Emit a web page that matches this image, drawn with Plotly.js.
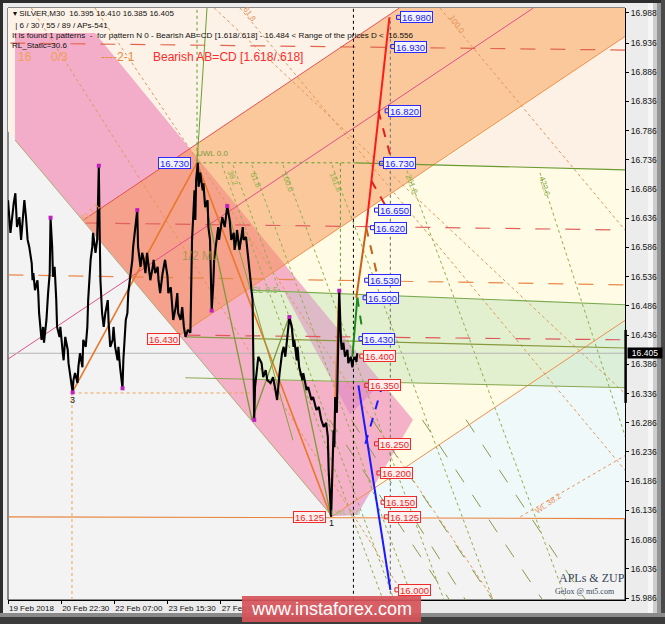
<!DOCTYPE html>
<html>
<head>
<meta charset="utf-8">
<script src="https://cdn.plot.ly/plotly-3.0.1.min.js"></script>
<style>
html,body{margin:0;padding:0;background:#2e2e2e;}
#chart{width:665px;height:624px;}
</style>
</head>
<body>
<div id="chart"></div>
<script>
// ---- SILVER M30: price path (bar index, price) ----
const pricePath = [
[0,16.667],[3,16.611],[7,16.662],[9,16.679],[11,16.621],[14,16.638],[16,16.599],[19,16.662],[20,16.667],[22,16.638],[24,16.599],[26,16.587],[29,16.559],[30,16.530],[31,16.542],[33,16.513],[36,16.530],[37,16.508],[38,16.474],[41,16.428],[43,16.450],[44,16.423],[47,16.462],[49,16.508],[51,16.542],[52,16.637],[54,16.587],[55,16.536],[57,16.553],[59,16.496],[60,16.450],[63,16.433],[64,16.450],[67,16.405],[68,16.393],[70,16.433],[73,16.411],[74,16.388],[76,16.364],[79,16.338],[80,16.359],[82,16.371],[85,16.354],[86,16.381],[88,16.405],[91,16.381],[92,16.428],[95,16.416],[97,16.450],[98,16.496],[101,16.565],[103,16.587],[104,16.611],[107,16.577],[109,16.599],[111,16.726],[112,16.621],[113,16.530],[115,16.474],[117,16.450],[119,16.474],[122,16.496],[123,16.457],[125,16.416],[128,16.428],[129,16.450],[131,16.416],[134,16.393],[135,16.416],[137,16.381],[140,16.345],[141,16.393],[144,16.462],[146,16.474],[147,16.508],[150,16.542],[152,16.565],[153,16.587],[156,16.621],[158,16.650],[159,16.587],[162,16.553],[164,16.577],[166,16.565],[168,16.542],[170,16.577],[172,16.553],[174,16.530],[177,16.553],[178,16.565],[180,16.542],[183,16.553],[184,16.530],[186,16.508],[189,16.542],[190,16.553],[192,16.565],[195,16.536],[196,16.508],[199,16.518],[201,16.484],[202,16.462],[205,16.484],[207,16.508],[208,16.474],[211,16.462],[213,16.484],[215,16.450],[217,16.433],
[220,16.445],[223,16.440],[224,16.530],[225,16.599],[227,16.655],[228,16.684],[229,16.633],[230,16.702],[232,16.731],[233,16.690],[235,16.714],[238,16.684],[239,16.696],[241,16.655],[244,16.667],[245,16.621],[247,16.599],[249,16.478],[251,16.525],[252,16.565],[255,16.599],[257,16.621],[258,16.599],[262,16.638],[265,16.621],[267,16.650],[268,16.657],[271,16.633],[273,16.599],[276,16.611],[277,16.582],[279,16.599],[280,16.616],[283,16.582],[287,16.621],[288,16.599],[291,16.604],[293,16.577],[295,16.547],[298,16.513],
[299,16.496],[300,16.388],[301,16.291],[302,16.347],[305,16.381],[306,16.399],[310,16.388],[312,16.364],[315,16.376],[317,16.359],[321,16.354],[324,16.364],[327,16.342],[329,16.325],[332,16.371],[335,16.405],[337,16.416],[339,16.399],[342,16.440],[344,16.467],[347,16.450],[349,16.416],[350,16.428],[353,16.393],[354,16.416],[356,16.381],[360,16.359],[361,16.371],[365,16.342],[367,16.347],[371,16.325],[373,16.330],[377,16.308],[380,16.313],[383,16.291],[386,16.279],[389,16.286],[391,16.262],[392,16.205],[393,16.176],[394,16.137],[395,16.125],[396,16.176],[397,16.217],[398,16.273],[399,16.244],[400,16.330],[402,16.303],[403,16.388],[404,16.460],[405,16.512],[407,16.428],[408,16.411],[410,16.423],[412,16.399],[415,16.411],[416,16.388],[419,16.399],[421,16.381],[422,16.393],[425,16.399],[426,16.390],[427,16.405]
];
const lastPrice = 16.405;

// ZUP zigzag pivots and legs
const pivots = [[52,16.637],[79,16.338],[111,16.726],[140,16.345],[158,16.650],[249,16.478],[268,16.657],[301,16.291],[344,16.467],[405,16.512]];
const zigzagMain = [[78.2,16.337],[231.1,16.731],[394.9,16.125],[404.6,16.512]];
const zigzagMinor = [[231.1,16.731],[298.3,16.291],[343.5,16.467],[394.9,16.125]];
const zigzagInner = [[267.7,16.655],[348.4,16.256]];
const peakRay = [[231.1,16.731],[243.3,16.996]];

// AB=CD projection legs
const greenUp = [[421,16.399],[427.1,16.500]];
const greenBack = [[427.1,16.500],[439.3,16.388]];
const brownUp = [[425.8,16.500],[438,16.620]];
const brownBack = [[438,16.620],[452.8,16.530]];
const redUp = [[438,16.620],[466.3,16.980]];
const redBack1 = [[452.8,16.820],[469.9,16.730]];
const redBack2 = [[444.3,16.700],[462.6,16.655]];
const blueDown = [[428.4,16.350],[467.5,16.000]];
const blueBack = [[436.9,16.250],[457.7,16.350]];

// target price labels
const blueLevels = [16.980,16.930,16.820,16.730,16.650,16.620,16.530,16.500,16.430];
const blueLabelBars = [479,472,465,458,452,447,440,438,433];
const redLevels = [16.400,16.350,16.250,16.200,16.150,16.125,16.000];
const redLabelBars = [434,440,452,455,460,464,477];
const pivotLabels = [[183.9,16.730,'blue'],[170.4,16.430,'red'],[348.9,16.125,'red']];

// Andrews pitchfork zones (bar, price)
const lightPeachZone = [[0,16.997],[770,16.997],[770,16.962],[209.8,16.436],[92.2,16.633],[0,16.785]];
const creamZone = [[209.8,16.436],[770,16.962],[770,16.476],[396.6,16.126]];
const upperCreamZone = [[523,16.7265],[770,16.962],[770,16.719]];
const cyanZone = [[396.6,16.126],[770,16.476],[770,16.122]];
const pinkChannel = [[8.6,16.953],[106.4,16.953],[366.5,16.509],[298.3,16.513],[298.3,16.360],[457.2,16.355],[495.1,16.291],[426.7,16.128],[396.1,16.126],[8.6,16.770]];
const greenZone = [[298.3,16.513],[770,16.487],[770,16.345],[298.3,16.360]];
const pinkStrip = [[366.5,16.509],[457.2,16.355],[418.1,16.300],[338.0,16.509]];
const peachChannel = [[92.2,16.633],[480,16.997],[770,16.997],[770,16.962],[209.8,16.436]];

// pitchfork lines
const upperTine = [[92.2,16.633],[478.5,16.996]];
const medianLine = [[0,16.395],[642.3,16.996]];
const lowerTine = [[209.8,16.436],[770,16.962]];
const lowerWarning = [[396.6,16.126],[770,16.476]];
const wl382 = [[626.3,16.125],[755.9,16.231]];
const slopeEdge = [[8.6,16.770],[396.1,16.126]];

// horizontal levels
const lvl16930 = [[2.9,16.936],[754.8,16.924]];
const lvl16620 = [[94.6,16.628],[754.8,16.616]];
const lvl16530 = [[0.5,16.539],[754.8,16.522]];
const lvl16430 = [[216.9,16.436],[754.8,16.428]];
const lvl16337 = [[79,16.337],[298.8,16.337]];
const lvl16125 = [[0,16.125],[754.8,16.122]];
const uwlDotted = [[231.5,16.731],[424.7,16.731]];
const uwlLine = [[424.7,16.731],[754.8,16.719]];
const slLine = [[296.3,16.513],[754.8,16.488]];
const g3Line = [[216.9,16.433],[754.8,16.414]];
const g4Line = [[216.9,16.363],[754.8,16.346]];

// fan / parallel lines
const fanStarts = [[261.6,16.727],[275.1,16.727],[298.3,16.727],[336.2,16.727],[396.1,16.727],[485.3,16.727],[650.4,16.714]];
const fanEnds = [[458.4,15.983],[471.9,15.983],[495.1,15.983],[533.0,15.983],[592.9,15.983],[682.2,15.983],[819.1,15.983]];
const parStarts = [[28.6,16.996],[106.2,16.996],[252.1,16.996],[283.6,16.996],[528.1,16.996]];
const parEnds = [[487.8,15.983],[593.9,15.983],[1022.9,15.983],[886.3,15.983],[1130.8,15.983]];
const dashStarts = [[393.0,16.291],[419.9,16.291],[445.5,16.291],[506.6,16.291],[560.0,16.291]];
const dashEnds = [[539.6,15.983],[559.2,15.983],[592.2,15.983],[653.3,15.983],[706.0,15.983]];

// time and price axes
const xTickBars = [0,65,130,195,260];
const xTickText = ['19 Feb 2018','20 Feb 22:30','22 Feb 07:00','23 Feb 15:30','27 Feb 01:00'];
const yTickVals = [15.986,16.036,16.086,16.136,16.186,16.236,16.286,16.336,16.386,16.436,16.486,16.536,16.586,16.636,16.686,16.736,16.786,16.836,16.886,16.936,16.988];

// ---- helpers ----
const X0 = 0, X1 = 754.3, Y0 = 15.9826, Y1 = 16.996;
const L = 8, T = 8, W = 617, H = 592;
const xp = px => (px - L) / W;          // pixel -> paper x
const yp = py => (T + H - py) / H;      // pixel -> paper y
const dx = px => X0 + (px - L) / W * (X1 - X0);
const dy = py => Y1 - (py - T) / H * (Y1 - Y0);

const shapes = [];
function paperRect(a, b, c, d, fill, line) {
  shapes.push({type:'rect', xref:'paper', yref:'paper', x0:xp(a), y0:yp(b), x1:xp(c), y1:yp(d),
    fillcolor:fill, line:line || {width:0}, layer:'below'});
}
function region(pts, fill) {
  const d = 'M' + pts.map(p => p[0] + ',' + p[1]).join('L') + 'Z';
  shapes.push({type:'path', xref:'x', yref:'y', path:d, fillcolor:fill, line:{width:0}, layer:'below'});
}
function seg(pts, color, width, dash, layer) {
  shapes.push({type:'line', xref:'x', yref:'y', x0:pts[0][0], y0:pts[0][1], x1:pts[1][0], y1:pts[1][1],
    line:{color:color, width:width, dash:dash || 'solid'}, layer:layer || 'below'});
}
function vline(x, y0, y1, color, width, dash) {
  seg([[x,y0],[x,y1]], color, width, dash);
}

// window frame
paperRect(3, 3, 651, 613, '#ececec');
paperRect(648, 3, 653, 613, '#f6f6f6');
paperRect(653, 3, 657, 613, '#cdcdcd');
paperRect(657, 3, 661, 613, '#969696');
paperRect(661, 0, 665, 624, '#4a4a4a');
paperRect(0, 613, 665, 617, '#8a8a8a');
paperRect(0, 617, 665, 624, '#3c3c3c');
paperRect(L, T, L + W, T + H, '#f3f3f3', {color:'#202020', width:1});

// zones
region(lightPeachZone, '#fdf2e7');
region(creamZone, '#fffbe4');
region(upperCreamZone, '#fdf1e6');
region(cyanZone, '#f0f9f9');
region(greenZone, 'rgba(200,230,185,0.5)');
region(pinkChannel, 'rgba(236,110,175,0.52)');
region(pinkStrip, 'rgba(215,120,190,0.45)');
region(peachChannel, 'rgba(246,145,60,0.44)');

// fan and parallel lines
fanStarts.forEach((s, i) => seg([s, fanEnds[i]], '#8fae4a', 1, 'dot'));
parStarts.forEach((s, i) => seg([s, parEnds[i]], '#e2955a', 1, 'dot'));
dashStarts.forEach((s, i) => seg([s, dashEnds[i]], '#8a9a50', 1, 'longdash'));
seg(wl382, '#e8905a', 1, 'dot');

// pitchfork lines
seg(upperTine, '#e4504e', 1);
seg(medianLine, '#e2508a', 1);
seg(lowerTine, '#f0904c', 1);
seg(lowerWarning, '#f0904c', 1);
seg(slopeEdge, '#a0a060', 0.8);

// levels
seg(lvl16930, '#e2664e', 1.2, 'longdash');
seg(lvl16620, '#e0605e', 1.2, 'longdash');
seg(lvl16530, '#e88a4a', 1.2, 'longdash');
seg(lvl16430, '#e0585e', 1.2, 'longdash');
seg(lvl16337, '#f0a050', 1, 'dot');
seg(lvl16125, '#e8843c', 1.2);
seg(uwlDotted, '#5aa030', 1, 'dot');
seg(uwlLine, '#6a9a30', 1.2);
seg(slLine, '#7aaa50', 1.2);
seg(g3Line, '#8a9a40', 1.2);
seg(g4Line, '#8aa850', 1);
seg([[0,lastPrice],[754.3,lastPrice]], '#b4b4b4', 1);

// verticals
vline(78.2, 16.337, 15.983, '#f0a050', 1, 'dot');
vline(231.1, 16.731, 16.996, '#5aa030', 1, 'dot');
vline(406.4, 16.731, 16.512, '#5aa030', 1, 'dot');
vline(422.3, 15.983, 16.996, '#000000', 1, 'dot');
vline(467.5, 15.983, 16.980, '#808080', 1.2, 'dot');

// current bar marker at right edge
shapes.push({type:'line', xref:'paper', yref:'y', x0:1.001, x1:1.001, y0:16.445, y1:16.320,
  line:{color:'#000', width:2.5}, layer:'above'});

// watermark banner
shapes.push({type:'rect', xref:'paper', yref:'paper', x0:xp(242), x1:xp(421), y0:yp(596), y1:yp(622),
  fillcolor:'rgba(214,84,90,0.93)', line:{width:0}, layer:'above'});

// ---- traces ----
const lineTrace = (pts, color, width, dash) => ({
  x: pts.map(p => p[0]), y: pts.map(p => p[1]), type:'scatter', mode:'lines',
  line:{color:color, width:width, dash:dash || 'solid'}, hoverinfo:'skip'
});

const anchorX = [], anchorY = [], anchorC = [];
blueLevels.forEach((v, i) => { anchorX.push(blueLabelBars[i] - 1.5); anchorY.push(v); anchorC.push('#1a1aff'); });
redLevels.forEach((v, i) => { anchorX.push(redLabelBars[i] - 1.5); anchorY.push(v); anchorC.push('#ee1c1c'); });

const traces = [
  lineTrace(peakRay, '#6aa030', 1),
  lineTrace(zigzagMain, '#e8782a', 1.6),
  lineTrace(zigzagMinor, '#7e9a38', 1.3),
  lineTrace(zigzagInner, '#8aa040', 1),
  lineTrace(pricePath, '#000000', 2.1),
  {x: pivots.map(p => p[0]), y: pivots.map(p => p[1]), type:'scatter', mode:'markers',
   marker:{color:'#c020c0', size:4, symbol:'square'}, hoverinfo:'skip'},
  lineTrace(greenUp, '#1a8a1a', 2),
  lineTrace(greenBack, '#1a8a1a', 2, 'dash'),
  lineTrace(brownUp, '#c86018', 2),
  lineTrace(brownBack, '#c86018', 2, 'dash'),
  lineTrace(redUp, '#ff1a1a', 2),
  lineTrace(redBack1, '#e02020', 2, 'dash'),
  lineTrace(redBack2, '#e02020', 2, 'dash'),
  lineTrace(blueDown, '#1a1aff', 2),
  lineTrace(blueBack, '#1a1aff', 2, 'dash'),
  {x: anchorX, y: anchorY, type:'scatter', mode:'markers', hoverinfo:'skip',
   marker:{symbol:'square-open', size:4, color:anchorC, line:{width:1, color:anchorC}}}
];

// ---- annotations ----
const ann = [];
const FONT = 'Liberation Sans, Arial, sans-serif';
function priceBox(bar, level, kind) {
  const blue = kind === 'blue';
  ann.push({x:bar, y:level, xref:'x', yref:'y', text:level.toFixed(3), showarrow:false,
    xanchor:'left', yanchor:'middle', width:31, height:10, align:'center',
    font:{family:FONT, size:9.5, color: blue ? '#1a1aff' : '#ee1c1c'},
    bgcolor: blue ? '#f2f3ff' : '#fff0f0', bordercolor: blue ? '#2a2aff' : '#ee2a2a', borderwidth:1, borderpad:0});
}
blueLevels.forEach((v, i) => priceBox(blueLabelBars[i], v, 'blue'));
redLevels.forEach((v, i) => priceBox(redLabelBars[i], v, 'red'));
pivotLabels.forEach(p => priceBox(p[0], p[1], p[2]));

function txt(px, py, text, size, color, opts) {
  ann.push(Object.assign({x:xp(px), y:yp(py), xref:'paper', yref:'paper', text:text, showarrow:false,
    xanchor:'left', yanchor:'middle', font:{family:FONT, size:size, color:color}}, opts || {}));
}
function dtxt(px, py, text, size, color, angle) {
  ann.push({x:dx(px), y:dy(py), xref:'x', yref:'y', text:text, showarrow:false, textangle:angle || 0,
    xanchor:'center', yanchor:'middle', font:{family:FONT, size:size, color:color}});
}

// header
txt(11, 14, '\u25BE SILVER,M30  16.395 16.410 16.385 16.405', 8, '#111');
txt(11, 25, ' | 6 / 30 / 55 / 89 / APs-541', 8, '#111');
txt(10, 35, 'It is found 1 patterns  -  for pattern N 0 - Bearish AB=CD [1.618/.618] - 16.484 &lt; Range of the prices D &lt;  16.556', 8.1, '#111');
txt(10, 45, 'RL_Static=30.6', 8, '#111');
txt(16, 57, '16', 12, '#f0a050');
txt(49, 57, '0/3', 12, '#f0a050');
txt(99, 57, '----2-1', 12, '#e88a3a');
txt(151, 57, 'Bearish AB=CD [1.618/.618]', 12, '#ff2a2a');

// pitchfork captions
dtxt(212, 153, 'UWL 0.0', 8, '#7a9a3a');
dtxt(265, 290, 'SL 0.5', 9, '#8aba5a');
dtxt(200, 256, '1/2 ML', 12, 'rgba(150,150,70,0.75)');
dtxt(345, 512, 'LWL 0.0', 8, '#9ac070');
dtxt(548, 503, 'WL 38.2', 8, '#e8905a', -35);
dtxt(250, 14, '61.8', 8, '#e2955a', 55);
dtxt(457, 24, '100.0', 8, '#e2955a', 55);
dtxt(233, 178, '38.2', 8, '#8fae4a', 68);
dtxt(256, 180, '61.8', 8, '#8fae4a', 68);
dtxt(288, 182, '100.0', 8, '#8fae4a', 68);
dtxt(336, 182, '161.8', 8, '#8fae4a', 68);
dtxt(412, 184, '261.8', 8, '#8fae4a', 68);
dtxt(545, 186, '423.6', 8, '#8fae4a', 72);
dtxt(90, 212, '81.1 1', 8, '#f0a050', -40);
dtxt(72, 400, '3', 9, '#111');
dtxt(331, 523, '1', 9, '#111');

// signature
txt(557, 578, 'APLs &amp; ZUP', 12, '#36465a', {font:{family:'Liberation Serif, serif', size:12, color:'#36465a'}});
txt(553, 591, 'Gelox @ mt5.com', 8, '#36465a', {font:{family:'Liberation Serif, serif', size:8, color:'#36465a'}});

// current price tag
ann.push({x:1, y:lastPrice, xref:'paper', yref:'y', text:lastPrice.toFixed(3), showarrow:false,
  xanchor:'left', yanchor:'middle', xshift:2, width:34, height:10, bgcolor:'#000',
  font:{family:FONT, size:8.5, color:'#fff'}, borderpad:0});

// watermark text
ann.push({x:(xp(242) + xp(421)) / 2, y:yp(609), xref:'paper', yref:'paper', text:'www.instaforex.com',
  showarrow:false, xanchor:'center', yanchor:'middle', font:{family:FONT, size:18, color:'#ffffff'}});

const layout = {
  width:665, height:624,
  margin:{l:L, r:665 - L - W, t:T, b:624 - T - H, pad:0},
  paper_bgcolor:'#2e2e2e', plot_bgcolor:'rgba(0,0,0,0)',
  showlegend:false, hovermode:false,
  xaxis:{range:[X0, X1], showgrid:false, zeroline:false,
    tickvals:xTickBars, ticktext:xTickText, ticklabelposition:'outside right', tickangle:0,
    tickfont:{family:FONT, size:8, color:'#111'},
    ticks:'outside', ticklen:3, tickcolor:'#000',
    showline:true, linecolor:'#000', linewidth:1, fixedrange:true},
  yaxis:{range:[Y0, Y1], side:'right', showgrid:false, zeroline:false,
    tickvals:yTickVals, ticktext:yTickVals.map(v => v.toFixed(3)),
    ticks:'outside', ticklen:3, tickcolor:'#000',
    tickfont:{family:FONT, size:8.5, color:'#111'},
    showline:true, linecolor:'#000', linewidth:1, fixedrange:true},
  shapes:shapes,
  annotations:ann
};

Plotly.newPlot('chart', traces, layout, {staticPlot:true, displayModeBar:false});
</script>
</body>
</html>
